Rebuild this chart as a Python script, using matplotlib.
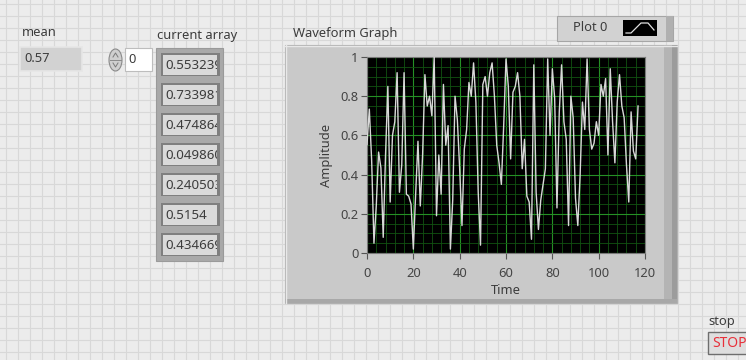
import matplotlib
matplotlib.use("Agg")
import matplotlib.pyplot as plt
from matplotlib.patches import Rectangle, Ellipse
from matplotlib.ticker import MultipleLocator
import numpy as np

W, H = 746, 360

mean_text = "0.57"
index_text = "0"
array_text = ["0.553239", "0.733981", "0.474864", "0.049860", "0.240503", "0.5154", "0.434669"]

# waveform, values
amplitude = [
    0.553, 0.734, 0.475, 0.050, 0.241, 0.515, 0.435, 0.08, 0.50, 0.85,
    0.26, 0.60, 0.67, 0.92, 0.31, 0.45, 0.92, 0.30, 0.29, 0.25,
    0.02, 0.30, 0.57, 0.24, 0.50, 0.91, 0.75, 0.80, 0.70, 1.00,
    0.19, 0.50, 0.30, 0.86, 0.55, 0.65, 0.02, 0.27, 0.80, 0.68,
    0.43, 0.14, 0.53, 0.63, 0.87, 0.80, 0.97, 0.77, 0.31, 0.04,
    0.86, 0.90, 0.80, 0.92, 0.97, 0.80, 0.55, 0.46, 0.35, 0.65,
    0.99, 0.85, 0.48, 0.82, 0.85, 0.92, 0.80, 0.43, 0.58, 0.29,
    0.26, 0.07, 0.96, 0.31, 0.12, 0.27, 0.35, 0.43, 0.99, 0.60,
    0.94, 0.79, 0.23, 0.72, 0.96, 0.67, 0.58, 0.14, 0.80, 0.69,
    0.28, 0.14, 0.40, 0.77, 0.63, 0.99, 0.63, 0.53, 0.56, 0.67,
    0.60, 0.86, 0.80, 0.89, 0.50, 0.94, 0.67, 0.46, 0.77, 0.91,
    0.75, 0.69, 0.45, 0.26, 0.72, 0.52, 0.48, 0.75,
]
time = list(range(len(amplitude)))

plt.rcParams['font.family'] = ['Noto Sans', 'DejaVu Sans']
TXT = '#3c3c3c'
FS = 9.3

fig = plt.figure(figsize=(W / 100, H / 100), dpi=100)
bg = fig.add_axes([0, 0, 1, 1])
bg.set_xlim(0, W)
bg.set_ylim(H, 0)
bg.axis('off')

# panel background with light grid
bg.add_patch(Rectangle((0, 0), W, H, facecolor='#ececec', edgecolor='none', zorder=0))
for gx in np.arange(6, W, 12):
    bg.plot([gx, gx], [0, H], color='#d8d8d8', lw=0.8, zorder=0.5)
for gy in np.arange(4, H, 12):
    bg.plot([0, W], [gy, gy], color='#d8d8d8', lw=0.8, zorder=0.5)


def box(x, y, w, h, fc, ec='none', lw=0.8, z=1):
    r = Rectangle((x, y), w, h, facecolor=fc, edgecolor=ec, lw=lw, zorder=z)
    bg.add_patch(r)
    return r


def clipped_text(x, y, s, patch, **kw):
    t = bg.text(x, y, s, va='center', ha='left', zorder=3, **kw)
    t.set_clip_on(True)
    t.set_clip_path(patch)
    return t


# mean indicator
bg.text(22, 33, "mean", fontsize=FS, color=TXT, va='center', ha='left', zorder=3)
box(20, 47, 62, 24, '#d2d2d2', '#e6e6e6', 1.2)
bg.text(24, 59, mean_text, fontsize=FS, color=TXT, va='center', ha='left', zorder=3)

# index control
bg.add_patch(Ellipse((115.5, 60), 13, 22, facecolor='#cfcfcf', edgecolor='#8a8a8a', lw=0.8, zorder=2))
bg.plot([110, 121], [60, 60], color='#8a8a8a', lw=0.7, zorder=3)
bg.plot([113, 115.5, 118], [57, 53, 57], color='#7a7a7a', lw=0.7, zorder=3)
bg.plot([113, 115.5, 118], [63, 67, 63], color='#7a7a7a', lw=0.7, zorder=3)
box(125, 48, 27, 23, 'white', '#bdbdbd', 0.8)
bg.text(128, 59.5, index_text, fontsize=FS, color=TXT, va='center', ha='left', zorder=3)

# array indicator
bg.text(157, 36, "current array", fontsize=FS, color=TXT, va='center', ha='left', zorder=3)
box(156, 48, 67, 213, '#a9a9a9', '#9a9a9a', 0.8)
for i, s in enumerate(array_text):
    y0 = 53 + 30 * i
    box(161, y0, 59, 23, '#7f7f7f', z=2)
    cell = box(163, y0 + 2, 54, 20, '#dadada', z=2)
    clipped_text(165, y0 + 12.5, s, cell, fontsize=9.6, color=TXT)

# waveform graph frame
bg.text(293, 33, "Waveform Graph", fontsize=FS, color=TXT, va='center', ha='left', zorder=3)
box(285, 45, 392, 258, '#c9c9c9', '#b0b0b0', 0.8)
box(664, 45, 13, 258, '#b4b4b4', z=1.5)
box(672, 45, 5, 258, '#9c9c9c', z=1.6)
box(285, 299, 392, 4, '#a8a8a8', z=1.6)
bg.plot([285, 677], [45.5, 45.5], color='#e8e8e8', lw=1, zorder=2)
bg.plot([285.5, 285.5], [45, 303], color='#e8e8e8', lw=1, zorder=2)

# legend
box(557, 16, 116, 25, '#d2d2d2', '#a6a6a6', 0.8)
box(666, 16, 7, 25, '#b0b0b0', z=1.5)
bg.text(573, 27.5, "Plot 0", fontsize=FS, color=TXT, va='center', ha='left', zorder=3)
box(623, 20, 34, 16, 'black', z=2)
bg.plot([626, 631, 641, 648, 654], [33, 33, 23, 23, 30], color='#e0e0e0', lw=0.9, zorder=3)

# stop button
bg.text(708, 322, "stop", fontsize=FS, color=TXT, va='center', ha='left', zorder=3)
btn = box(708, 332, 45, 22, '#dedede', '#6e6e6e', 1.0)
clipped_text(712, 343.5, "STOP", btn, fontsize=10, color='#e8303a')

# the plot area itself
x0, x1, y0, y1 = 367, 645, 57, 253
ax = fig.add_axes([x0 / W, (H - y1) / H, (x1 - x0) / W, (y1 - y0) / H])
ax.set_facecolor('black')
ax.plot(time, amplitude, color='#d8d8d8', lw=1.0, zorder=3)
ax.set_xlim(0, 120)
ax.set_ylim(0, 1)
ax.xaxis.set_major_locator(MultipleLocator(20))
ax.xaxis.set_minor_locator(MultipleLocator(4))
ax.yaxis.set_minor_locator(MultipleLocator(0.05))
ax.set_yticks([0, 0.2, 0.4, 0.6, 0.8, 1.0])
ax.set_yticklabels(["0", "0.2", "0.4", "0.6", "0.8", "1"])
ax.grid(which='major', color='#259025', lw=0.8)
ax.grid(which='minor', color='#115211', lw=0.6)
ax.set_axisbelow(True)
ax.tick_params(which='major', direction='out', length=4, width=0.8, color='#555555',
               labelsize=FS, labelcolor='#444444')
ax.tick_params(axis='x', which='major', pad=6)
ax.tick_params(axis='y', which='major', pad=2)
ax.tick_params(which='minor', length=0)
for sp in ax.spines.values():
    sp.set_color('#7a7a7a')
    sp.set_linewidth(0.8)
ax.set_xlabel("Time", fontsize=FS, color=TXT, labelpad=3)
ax.set_ylabel("Amplitude", fontsize=FS, color=TXT, labelpad=5)

fig.savefig('out.png', dpi=100)
